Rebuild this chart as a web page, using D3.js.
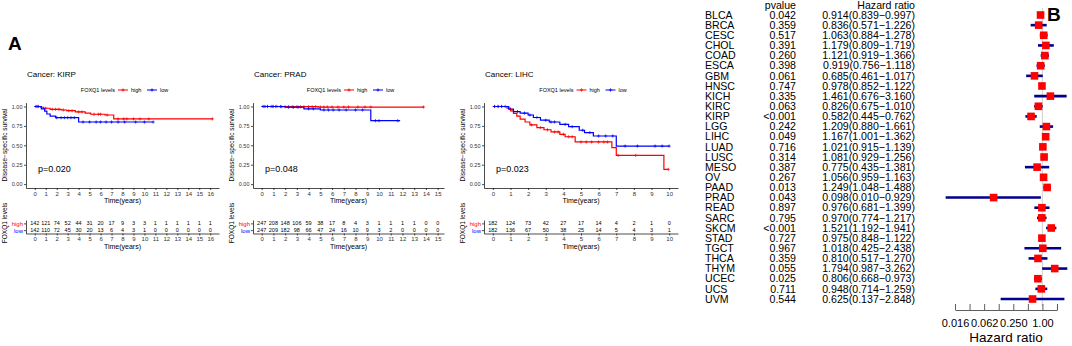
<!DOCTYPE html>
<html>
<head>
<meta charset="utf-8">
<script src="https://cdn.jsdelivr.net/npm/d3@7"></script>
<style>
  body { margin: 0; background: #fff; }
  svg { display: block; font-family: "Liberation Sans", Arial, sans-serif; }
</style>
</head>
<body>
<div id="chart"></div>
<script>
// ---- Kaplan-Meier data ----
const kirpHighT = [0, 0.5, 0.8, 1.4, 2.4, 2.9, 3.7, 4.6, 5.1, 6.4, 7.2];
const kirpHighS = [1, 0.99, 0.977, 0.964, 0.955, 0.946, 0.93, 0.915, 0.90, 0.89, 0.84];
const kirpHighEnd = 16.2;
const kirpHighCens = [0.2, 0.3, 1.0, 1.6, 1.9, 2.2, 2.6, 3.1, 3.4, 4.0, 4.3, 5.4, 5.8, 6.0, 6.6, 7.6, 8.1, 8.4, 9.0, 9.6, 10.4, 16.2];
const kirpLowT = [0, 0.6, 0.9, 1.1, 1.4, 1.9, 4.0];
const kirpLowS = [1, 0.97, 0.94, 0.903, 0.877, 0.856, 0.80];
const kirpLowEnd = 10.8;
const kirpLowCens = [0.1, 0.3, 2.0, 2.4, 2.7, 3.0, 3.3, 3.6, 4.4, 5.0, 5.6, 6.0, 6.5, 7.0, 7.6, 8.2, 9.2, 10.0, 10.8];

const pradHighT = [0, 1.5, 4.8];
const pradHighS = [1, 0.997, 0.993];
const pradHighEnd = 13.8;
const pradHighCens = [0.1, 0.3, 0.5, 0.8, 1.0, 1.3, 1.7, 2.0, 2.3, 2.6, 3.0, 3.3, 3.6, 4.0, 4.3, 4.6, 5.0, 5.3, 5.6, 6.0, 6.5, 7.0, 7.4, 8.2, 8.8, 9.3, 13.8];
const pradLowT = [0, 2.0, 3.6, 5.0, 9.3];
const pradLowS = [1, 0.99, 0.97, 0.955, 0.817];
const pradLowEnd = 11.8;
const pradLowCens = [0.2, 0.5, 0.9, 1.2, 1.6, 2.3, 2.7, 3.1, 4.0, 4.4, 5.3, 5.7, 6.1, 6.6, 7.2, 8.0, 8.6, 9.7, 10.0, 11.6];

const lihcHighT = [0, 0.8, 1.0, 1.17, 1.36, 1.55, 1.83, 2.1, 2.5, 2.9, 3.3, 3.8, 4.1, 4.67, 6.75, 7.0, 9.7];
const lihcHighS = [1, 0.98, 0.944, 0.91, 0.875, 0.836, 0.80, 0.763, 0.728, 0.70, 0.672, 0.642, 0.61, 0.543, 0.47, 0.37, 0.19];
const lihcHighEnd = 9.95;
const lihcHighCens = [0.1, 0.3, 0.5, 2.2, 2.7, 3.1, 3.5, 3.7, 4.0, 4.3, 4.5, 5.0, 5.3, 5.6, 6.0, 6.3, 6.5, 7.1, 8.1, 9.95];
const lihcLowT = [0, 0.9, 1.17, 1.55, 2.0, 2.3, 2.7, 3.2, 3.8, 4.3, 4.9, 5.2, 5.7, 7.0];
const lihcLowS = [1, 0.966, 0.935, 0.914, 0.89, 0.858, 0.823, 0.80, 0.77, 0.74, 0.694, 0.664, 0.62, 0.49];
const lihcLowEnd = 10.0;
const lihcLowCens = [0.1, 0.3, 0.5, 0.7, 1.4, 1.8, 2.1, 2.5, 3.0, 3.3, 3.5, 4.1, 4.5, 5.1, 5.5, 6.0, 6.4, 6.8, 7.5, 8.2, 9.2, 9.6, 10.0];

// numbers at risk
const kirpRiskHigh = [142, 121, 74, 52, 44, 31, 20, 17, 9, 3, 3, 1, 1, 1, 1, 1, 1];
const kirpRiskLow = [142, 110, 72, 45, 30, 20, 13, 6, 4, 3, 1, 0, 0, 0, 0, 0, 0];
const pradRiskHigh = [247, 208, 148, 106, 59, 38, 17, 8, 4, 3, 1, 1, 1, 1, 0, 0];
const pradRiskLow = [247, 209, 182, 98, 66, 47, 24, 16, 10, 9, 3, 2, 0, 0, 0, 0];
const lihcRiskHigh = [182, 124, 73, 42, 27, 17, 14, 4, 2, 1, 0];
const lihcRiskLow = [182, 136, 67, 50, 38, 25, 14, 5, 4, 3, 1];

const survTicks = [0, 0.25, 0.5, 0.75, 1];

// ---- Forest plot data ----
const cancers = ["BLCA", "BRCA", "CESC", "CHOL", "COAD", "ESCA", "GBM", "HNSC", "KICH", "KIRC", "KIRP", "LGG", "LIHC", "LUAD", "LUSC", "MESO", "OV", "PAAD", "PRAD", "READ", "SARC", "SKCM", "STAD", "TGCT", "THCA", "THYM", "UCEC", "UCS", "UVM"];
const pvalues = ["0.042", "0.359", "0.517", "0.391", "0.260", "0.398", "0.061", "0.747", "0.335", "0.063", "<0.001", "0.242", "0.049", "0.716", "0.314", "0.387", "0.267", "0.013", "0.043", "0.897", "0.795", "<0.001", "0.727", "0.967", "0.359", "0.055", "0.025", "0.711", "0.544"];
const hr = [0.914, 0.836, 1.063, 1.179, 1.121, 0.919, 0.685, 0.978, 1.461, 0.826, 0.582, 1.209, 1.167, 1.021, 1.081, 0.775, 1.056, 1.249, 0.098, 0.976, 0.970, 1.521, 0.975, 1.018, 0.810, 1.794, 0.806, 0.948, 0.625];
const hrLow = [0.839, 0.571, 0.884, 0.809, 0.919, 0.756, 0.461, 0.852, 0.676, 0.675, 0.445, 0.880, 1.001, 0.915, 0.929, 0.435, 0.959, 1.048, 0.010, 0.681, 0.774, 1.192, 0.848, 0.425, 0.517, 0.987, 0.668, 0.714, 0.137];
const hrHigh = [0.997, 1.226, 1.278, 1.719, 1.366, 1.118, 1.017, 1.122, 3.160, 1.010, 0.762, 1.661, 1.362, 1.139, 1.256, 1.381, 1.163, 1.488, 0.929, 1.399, 1.217, 1.941, 1.122, 2.438, 1.270, 3.262, 0.973, 1.259, 2.848];
const forestTicks = [1 / 64, 1 / 32, 1 / 16, 1 / 8, 1 / 4, 1 / 2, 1, 2];
const forestTickLabels = ["0.016", "", "0.062", "", "0.250", "", "1.00", ""];

const RED = "#ff0000", BLUE = "#0000ff";

const svg = d3.select("#chart")
    .append("svg")
    .attr("width", 1072)
    .attr("height", 346);

function stepAt(T, S, t) {
    let v = S[0];
    T.forEach((d, i) => { if (d <= t) v = S[i]; });
    return v;
}

function styleAxis(g, size, color) {
    g.attr("font-family", null).attr("font-size", size);
    g.selectAll("text").attr("fill", color);
    g.selectAll("line, path").attr("stroke", "#000").attr("stroke-width", 0.7);
}

const panels = [
    { name: "KIRP", p: "p=0.020", xMax: 16, left: 26, right: 219,
      curves: [
        { T: kirpHighT, S: kirpHighS, end: kirpHighEnd, cens: kirpHighCens, color: RED },
        { T: kirpLowT, S: kirpLowS, end: kirpLowEnd, cens: kirpLowCens, color: BLUE }],
      riskHigh: kirpRiskHigh, riskLow: kirpRiskLow },
    { name: "PRAD", p: "p=0.048", xMax: 14.8, left: 253, right: 444,
      curves: [
        { T: pradHighT, S: pradHighS, end: pradHighEnd, cens: pradHighCens, color: RED },
        { T: pradLowT, S: pradLowS, end: pradLowEnd, cens: pradLowCens, color: BLUE }],
      riskHigh: pradRiskHigh, riskLow: pradRiskLow },
    { name: "LIHC", p: "p=0.023", xMax: 10, left: 484, right: 678,
      curves: [
        { T: lihcHighT, S: lihcHighS, end: lihcHighEnd, cens: lihcHighCens, color: RED },
        { T: lihcLowT, S: lihcLowS, end: lihcLowEnd, cens: lihcLowCens, color: BLUE }],
      riskHigh: lihcRiskHigh, riskLow: lihcRiskLow }
];

const plusPath = "M-1.6,0H1.6M0,-1.6V1.6";

panels.forEach(p => {
    const g = svg.append("g");
    const ticks = p.riskHigh.map((d, i) => i);
    const x = d3.scaleLinear().domain([-0.05 * p.xMax, 1.05 * p.xMax]).range([p.left, p.right]);
    const y = d3.scaleLinear().domain([-0.05, 1.05]).range([188, 102.6]);
    const cx = (p.left + p.right) / 2;

    // title
    g.append("text").attr("x", p.left + 1).attr("y", 77)
        .attr("font-size", 8).text("Cancer: " + p.name);

    // legend
    const lg = g.append("g").attr("transform", `translate(${cx},90)`).attr("font-size", 5.5);
    lg.append("text").attr("x", -7.5).attr("dy", "0.35em").attr("text-anchor", "end").text("FOXQ1 levels");
    [[RED, "high", 0.5], [BLUE, "low", 29.5]].forEach(([c, lab, o]) => {
        lg.append("line").attr("x1", o - 5).attr("x2", o + 5).attr("stroke", c).attr("stroke-width", 1);
        lg.append("path").attr("d", plusPath).attr("transform", `translate(${o},0)`)
            .attr("stroke", c).attr("stroke-width", 0.8);
        lg.append("text").attr("x", o + 8).attr("dy", "0.35em").text(lab);
    });

    // axes
    const xa = g.append("g").attr("transform", "translate(0,188)")
        .call(d3.axisBottom(x).tickValues(ticks).tickSize(2).tickSizeOuter(0).tickPadding(1.5));
    styleAxis(xa, 6, "#333");
    const ya = g.append("g").attr("transform", `translate(${p.left},0)`)
        .call(d3.axisLeft(y).tickValues(survTicks).tickFormat(d3.format(".2f")).tickSize(2).tickSizeOuter(0).tickPadding(1.5));
    styleAxis(ya, 5.5, "#333");

    g.append("text").attr("x", cx).attr("y", 203).attr("text-anchor", "middle")
        .attr("font-size", 7).text("Time(years)");
    g.append("text").attr("transform", `translate(${p.left - 19},145) rotate(-90)`)
        .attr("text-anchor", "middle").attr("font-size", 6.5).text("Disease\u2212specific survival");

    // curves
    const line = d3.line().x(d => x(d[0])).y(d => y(d[1])).curve(d3.curveStepAfter);
    p.curves.forEach(c => {
        const pts = c.T.map((t, i) => [t, c.S[i]]).concat([[c.end, c.S[c.S.length - 1]]]);
        g.append("path").attr("d", line(pts)).attr("fill", "none")
            .attr("stroke", c.color).attr("stroke-width", 1.2);
        g.selectAll(null).data(c.cens).enter().append("path")
            .attr("d", plusPath)
            .attr("transform", t => `translate(${x(t)},${y(stepAt(c.T, c.S, t))})`)
            .attr("stroke", c.color).attr("stroke-width", 0.7);
    });

    g.append("text").attr("x", p.left + 12).attr("y", 172).attr("font-size", 9).text(p.p);

    // risk table
    const ry = d3.scalePoint().domain(["high", "low"]).range([220, 233.5]).padding(0.5);
    const rya = g.append("g").attr("transform", `translate(${p.left},0)`)
        .call(d3.axisLeft(ry).tickSize(2).tickSizeOuter(0).tickPadding(1));
    styleAxis(rya, 6, "#000");
    rya.selectAll("text").attr("fill", d => d === "high" ? RED : BLUE);
    const rxa = g.append("g").attr("transform", "translate(0,233.5)")
        .call(d3.axisBottom(x).tickValues(ticks).tickSize(2).tickSizeOuter(0).tickPadding(1.5));
    styleAxis(rxa, 6, "#333");

    [["high", p.riskHigh], ["low", p.riskLow]].forEach(([k, arr]) => {
        g.selectAll(null).data(arr).enter().append("text")
            .attr("x", (d, i) => x(i)).attr("y", ry(k)).attr("dy", "0.35em")
            .attr("text-anchor", "middle").attr("font-size", 5.5).text(d => d);
    });
    g.append("text").attr("x", cx).attr("y", 249).attr("text-anchor", "middle")
        .attr("font-size", 7).text("Time(years)");
    g.append("text").attr("transform", `translate(${p.left - 19},223) rotate(-90)`)
        .attr("text-anchor", "middle").attr("font-size", 6.5).text("FOXQ1 levels");
});

// panel letters
svg.append("text").attr("x", 8).attr("y", 50).attr("font-size", 19).attr("font-weight", "bold").text("A");
svg.append("text").attr("x", 1047).attr("y", 21).attr("font-size", 19).attr("font-weight", "bold").text("B");

// ---- Forest plot ----
const fy = d3.scalePoint().domain(cancers).range([15, 299]);
const fx = d3.scaleLog().base(2).domain([1 / 64, 2]).range([955, 1057]);
const fg = svg.append("g").attr("font-size", 10.6);

fg.append("text").attr("x", 796).attr("y", 5).attr("dy", "0.35em").attr("text-anchor", "end").text("pvalue");
fg.append("text").attr("x", 915).attr("y", 5).attr("dy", "0.35em").attr("text-anchor", "end").text("Hazard ratio");

cancers.forEach((c, i) => {
    const yy = fy(c);
    fg.append("text").attr("x", 705).attr("y", yy).attr("dy", "0.35em").text(c);
    fg.append("text").attr("x", 796).attr("y", yy).attr("dy", "0.35em").attr("text-anchor", "end").text(pvalues[i]);
    fg.append("text").attr("x", 915).attr("y", yy).attr("dy", "0.35em").attr("text-anchor", "end")
        .text(`${hr[i].toFixed(3)}(${hrLow[i].toFixed(3)}\u2212${hrHigh[i].toFixed(3)})`);
});

fg.append("line").attr("x1", fx(1)).attr("x2", fx(1)).attr("y1", 8).attr("y2", 306)
    .attr("stroke", "#d6d6d6").attr("stroke-width", 1.2);

fg.selectAll(".ci").data(cancers).enter().append("line")
    .attr("x1", (d, i) => fx(hrLow[i])).attr("x2", (d, i) => fx(hrHigh[i]))
    .attr("y1", d => fy(d)).attr("y2", d => fy(d))
    .attr("stroke", "#00008b").attr("stroke-width", 2.6);

fg.selectAll(".box").data(cancers).enter().append("rect")
    .attr("x", (d, i) => fx(hr[i]) - 3.8).attr("y", d => fy(d) - 3.8)
    .attr("width", 7.6).attr("height", 7.6).attr("fill", RED);

const fa = fg.append("g").attr("transform", "translate(0,310)")
    .call(d3.axisBottom(fx).tickValues(forestTicks).tickFormat((d, i) => forestTickLabels[i])
        .tickSizeInner(-6).tickSizeOuter(0).tickPadding(9));
fa.attr("font-family", null).attr("font-size", 11);
fa.selectAll("line, path").attr("stroke", "#333").attr("stroke-width", 0.8);

fg.append("text").attr("x", (fx(1 / 64) + fx(2)) / 2).attr("y", 342).attr("text-anchor", "middle")
    .attr("font-size", 13.5).text("Hazard ratio");
</script>
</body>
</html>
